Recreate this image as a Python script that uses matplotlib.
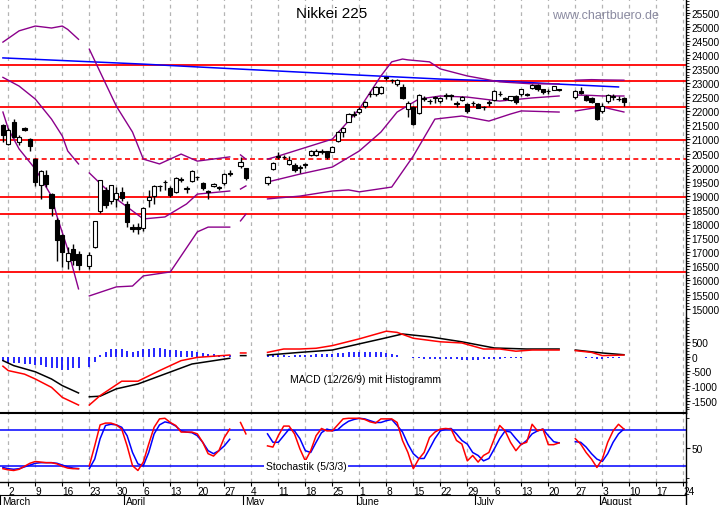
import numpy as np
import matplotlib
matplotlib.use('Agg')
import matplotlib.pyplot as plt
import matplotlib.transforms as mtrans

plt.rcParams['font.family'] = 'Liberation Sans'

# trading-day index: 0 = Mon 2 March 2020, holidays are None
day_start = -1
opens = [21500, 20850, 21600, 20900, 21400, 21000, 20300, 19400, 19750, 19050, 18150, 17600, 16700, 17100, 16950, None,
         16500, 17200, 18450, 19200, 18800, 18900, 19150, 18700, 17890, 17900, 17850, 18850, 19000, 19330, 19480, 19280,
         19150, 19600, 19250, 19530, 19650, 19460, 19150, 19350, 19300, 19450, 19780, None, 20050, 19990, None, None, None,
         19460, 19950, 20370, 20380, 20130, 20100, 20000, 20100, 20450, 20450, 20600, 20590, 20570, 20950, 21270, 21620,
         21900, 21980, 22190, 22600, 22620, 22650, 23180, 23100, 22970, 22860, 22080, 22150, 21940, 22450, 22350, 22480,
         22370, 22550, 22550, 22260, 22400, 22260, 22280, 22250, 22140, 22300, 22400, 22600, 22430, 22400, 22540, 22610,
         22600, 22830, 22930, 22780, 22700, 22760, 22760, None, None, 22500, 22720, 22540, 22470, 22290, 22000, 22360,
         22500, 22450, 22470]
highs = [21550, 21400, 21720, 21150, 21450, 21050, 20350, 19900, 19900, 19100, 18200, 17650, 17200, 17300, 17050, None,
         17000, 18100, 19560, 19300, 19400, 19300, 19300, 18800, 18000, 18050, 18600, 19200, 19400, 19400, 19550, 19350,
         19650, 19650, 19350, 19900, 19720, 19500, 19200, 19450, 19350, 19800, 19900, None, 20370, 20000, None, None, None,
         19700, 20200, 20540, 20450, 20400, 20150, 20100, 20150, 20620, 20650, 20650, 20600, 20750, 21300, 21450, 21950,
         22000, 22150, 22350, 22700, 22900, 22900, 23200, 23150, 23150, 22950, 22350, 22200, 22620, 22550, 22450, 22550,
         22500, 22650, 22600, 22350, 22550, 22300, 22350, 22300, 22200, 22400, 22750, 22700, 22500, 22550, 22560, 22800,
         22650, 22950, 22970, 22800, 22800, 22900, 22800, None, None, 22750, 22850, 22570, 22500, 22300, 22300, 22600,
         22600, 22550, 22500]
lows = [20900, 20800, 21050, 20800, 21300, 20600, 19350, 18900, 19300, 18300, 16700, 16475, 16400, 16550, 16360, None,
        16400, 17150, 18400, 18550, 18700, 18600, 18800, 17900, 17700, 17650, 17750, 18600, 18700, 19170, 19200, 18950,
        19100, 19500, 19100, 19500, 19550, 19200, 18900, 19300, 19200, 19400, 19700, None, 20000, 19550, None, None, None,
        19400, 19900, 20300, 20300, 20100, 19850, 19800, 20000, 20400, 20400, 20500, 20300, 20550, 20900, 21100, 21600,
        21800, 21900, 22100, 22500, 22550, 22600, 23100, 23000, 22900, 22450, 21800, 21500, 21900, 22350, 22250, 22300,
        22300, 22450, 22400, 22150, 22350, 21950, 22200, 22100, 22050, 22200, 22350, 22550, 22400, 22350, 22250, 22550,
        22550, 22800, 22700, 22600, 22600, 22750, 22700, None, None, 22450, 22600, 22350, 22300, 21700, 21950, 22300,
        22400, 22350, 22200]
closes = [21140, 21344, 21083, 21100, 21329, 20749, 19500, 19867, 19416, 18559, 17431, 17000, 16980, 16726, 16552, None,
          16887, 18092, 19546, 18665, 19389, 19084, 18917, 18065, 17819, 17820, 18576, 18950, 19353, 19345, 19498, 19043,
          19638, 19551, 19290, 19897, 19669, 19280, 19137, 19429, 19262, 19783, 19771, None, 20193, 19619, None, None, None,
          19674, 20179, 20390, 20366, 20267, 19914, 20037, 20133, 20590, 20595, 20552, 20388, 20741, 21271, 21419, 21916,
          21877, 22062, 22325, 22613, 22860, 22863, 23178, 23091, 23124, 22472, 22305, 21530, 22582, 22455, 22355, 22478,
          22470, 22549, 22534, 22259, 22512, 21995, 22288, 22121, 22145, 22306, 22714, 22614, 22438, 22529, 22330, 22784,
          22587, 22945, 22770, 22696, 22717, 22884, 22751, None, None, 22715, 22657, 22397, 22339, 21710, 22195, 22573,
          22514, 22418, 22329]

# Bollinger bands and long average (day index, value), None separates pieces
bb_upper_x = [-1, 2, 5, 8, 10, 11, 13, None, 15, 17, 20, 23, 25, 28, 32, 35, 41, None, 43, 44, None,
              48, 50, 60, 65, 69, 71, 73, 74, 78, 80, 85, 91, 97, 102, None, 105, 108, 110, 114]
bb_upper = [24450, 24850, 25020, 24950, 25020, 24900, 24550, None, 24200, 23390, 22180, 21260, 20300, 20130, 20480, 20230, 20380, None, 20450, 20300, None,
            20300, 20410, 21010, 22080, 23250, 23750, 23850, 23820, 23750, 23500, 23250, 23040, 22970, 22970, None, 23100, 23120, 23110, 23100]
bb_mid_x = [-1, 2, 5, 8, 10, 11, 13, None, 15, 20, 25, 29, 33, 35, 41, None, 43, 44, None,
            48, 54, 60, 65, 69, 72, 76, 80, 85, 91, 97, 102, None, 105, 108, 110, 114]
bb_mid = [23200, 22890, 22430, 21720, 21120, 20590, 20130, None, 19810, 18890, 18180, 18250, 18710, 19060, 19170, None, 19240, 19350, None,
          19490, 19770, 20020, 20590, 21260, 21970, 22430, 22540, 22500, 22360, 22470, 22540, None, 22575, 22560, 22540, 22540]
bb_lower_x = [-1, 0, 2, 5, 8, 9, 11, 13, None, 15, 20, 23, 25, 30, 35, 37, 41, None, 43, 44, None,
              48, 54, 60, 63, 65, 71, 75, 79, 84, 89, 93, 95, 102, None, 105, 108, 110, 114]
bb_lower = [21970, 21370, 20660, 19950, 18990, 18280, 17110, 15700, None, 15450, 15770, 15800, 16160, 16300, 17720, 17890, 17890, None, 18110, 18350, None,
            18890, 18990, 19170, 19210, 19140, 19310, 20410, 21720, 21830, 21650, 21900, 22010, 21970, None, 22007, 22100, 22149, 21972]
ma_x = [-1, 25, 35, 65, 80, 91, 102, 113]
ma_val = [23890, 23670, 23570, 23280, 23140, 23070, 22960, 22860]
levels = [23640, 23070, 22150, 20980, 18960, 18355, 16300]
level_dashed = 20305

# MACD (12/26/9)
macd_x = [-1, 0, 3, 5, 8, 10, 13, None, 15, 17, 21, 24, 28, 32, 35, 41, None, 43, 44, None,
          48, 51, 54, 57, 60, 65, 70, 72, 75, 80, 84, 88, 91, 94, 97, 102, None, 105, 108, 110, 114]
macd_val = [-330, -480, -600, -765, -1050, -1390, -1650, None, -1650, -1330, -840, -840, -480, -140, -30, 50, None, 120, 120, None,
            140, 255, 255, 280, 370, 600, 860, 820, 620, 500, 460, 255, 255, 180, 220, 220, None, 200, 140, 30, 50]
signal_x = [-1, 1, 5, 8, 10, 13, None, 15, 17, 20, 24, 29, 34, 41, None, 43, 44, None,
            48, 54, 60, 65, 69, 73, 78, 84, 90, 96, 102, None, 105, 110, 114]
signal_val = [-140, -310, -520, -765, -990, -1240, None, -1370, -1350, -1100, -935, -595, -255, -60, None, 30, 30, None,
              50, 140, 220, 430, 595, 765, 670, 500, 290, 255, 255, None, 220, 120, 60]
macd_hist = ([-150, -230, -230, -230, -260, -260, -300, -300, -340, -390, -400, -450, -450, -400, -400, None]
             + [-340, -170, 57, 147, 250, 250, 250, 193, 147, 193, 250, 250, 283, 283, 250, 227, 227, 204, 193, 193,
                147, 113, 91, 91, 57, 57, 57]
             + [None, None, None, None, None, None]
             + [60, 70, 60, 40, 30, 40, 50, 60, 60, 70, 80, 90, 100, 120, 130, 150, 150]
             + [170, 170, 170, 170, 170, 130, 90, 60, None, None]
             + [-60, -60, -70, -70, -80, -80, -90, -100, -100, -110, -120, -120, -110, -100, -90, -80, -70, -60,
                -50, -40, -40, -30]
             + [None] * 8
             + [-30, -30, -50, -60, -70, -70, -60, -50, -40, -30])

# Stochastik (5/3/3)
stoch_k = ([16, 14, 13, 15, 20, 25, 28, 27, 26, 26, 24, 20, 17, 16, 16, None]
           + [21, 54, 89, 92, 92, 89, 82, 54, 21, 13, 27, 57, 85, 99, 100, 93, 88, 77, 77, 77, 74, 60, 41, 37, 46, 68, 82]
           + [None, 93, 74, None, None, None]
           + [54, 52, 71, 87, 87, 74, 49, 29, 46, 71, 83, 79, 79, 89, 99, 100, 100, 100]
           + [98, 94, 92, 99, 99, 99, 93, 63, 43, 16, 32, 43, 68, 77, 82, 83, 82, 63, 57, 29, 38, 27, 38, 43, 66, 88,
              79, 60, 46, 57, 60, 90, 79, 82, 56, 56, 59]
           + [None, None]
           + [66, 57, 43, 32, 18, 32, 60, 79, 90, 82])
stoch_d = ([18, 16, 15, 16, 19, 22, 25, 26, 26, 26, 25, 22, 19, 17, 16, None]
           + [16, 32, 66, 88, 90, 89, 85, 71, 43, 24, 21, 43, 74, 89, 94, 92, 87, 79, 77, 76, 71, 60, 46, 41, 46, 54, 65]
           + [None, None, None, None, None, None]
           + [74, 60, 60, 71, 82, 79, 66, 46, 43, 60, 76, 82, 79, 81, 89, 95, 98, 100]
           + [99, 96, 93, 93, 96, 98, 88, 77, 57, 41, 33, 33, 49, 66, 79, 82, 83, 74, 63, 57, 43, 38, 29, 33, 49, 66,
              79, 77, 66, 56, 63, 74, 79, 82, 71, 61, 59]
           + [None, None]
           + [61, 60, 52, 41, 32, 28, 41, 60, 74, 82])

monday_labels = ['2', '9', '16', '23', '30', '6', '13', '20', '27', '4', '11', '18', '25',
                 '1', '8', '15', '22', '29', '6', '13', '20', '27', '3', '10', '17', '24']
month_names = ['March', 'April', 'May', 'June', 'July', 'August']
month_start = [-1.5, 21.5, 43.5, 64.5, 86.5, 109.5]

W, H = 723, 506
fig = plt.figure(figsize=(W / 100, H / 100), dpi=100)
fig.patch.set_facecolor('white')

def rect(top, bottom):
    return [0, (H - bottom) / H, 686 / W, (bottom - top) / H]

ax_p = fig.add_axes(rect(0, 414))
ax_m = fig.add_axes(rect(318, 414), facecolor='none')
ax_s = fig.add_axes(rect(414, 483))

xlim = (-1.54, 125.5)
mondays = np.arange(0, 5 * len(monday_labels), 5)
for ax in (ax_p, ax_m, ax_s):
    ax.set_xlim(*xlim)
    for s in ('left', 'top', 'bottom'):
        ax.spines[s].set_visible(False)
    ax.spines['right'].set_linewidth(1)
    ax.yaxis.tick_right()
    ax.tick_params(axis='y', direction='out', length=3, width=0.8, labelsize=7.3, pad=1)
    ax.tick_params(axis='y', which='minor', length=2, width=0.6)
for ax in (ax_p, ax_s):
    for m in mondays:
        ax.axvline(m, color='#b4b4b4', lw=0.9, ls=(0, (3, 3)), zorder=0)
ax_p.set_xticks([])
ax_m.set_xticks([])

def arr(v):
    return np.array(v, dtype=float)

x = np.arange(day_start, day_start + len(closes))
o, h, l, c = arr(opens), arr(highs), arr(lows), arr(closes)

# price panel
ax_p.set_ylim(11298, 25979)
for lv in levels:
    ax_p.axhline(lv, color='#ff0000', lw=1.3, zorder=1)
ax_p.axhline(level_dashed, color='#ff0000', lw=1.2, ls=(0, (3, 2)), zorder=1)
ax_p.plot(arr(ma_x), arr(ma_val), color='#0000ff', lw=1.1, zorder=2)
for bx, bv in ((bb_upper_x, bb_upper), (bb_mid_x, bb_mid), (bb_lower_x, bb_lower)):
    ax_p.plot(arr(bx), arr(bv), color='#8b008b', lw=1.0, zorder=2)
ok = ~np.isnan(c)
ax_p.vlines(x[ok], l[ok], h[ok], color='black', lw=1, zorder=3)
up = ok & (c >= o)
dn = ok & (c < o)
body_up = np.maximum(c[up] - o[up], 25)
body_dn = np.maximum(o[dn] - c[dn], 25)
ax_p.bar(x[up], body_up, bottom=o[up], width=0.8, facecolor='white', edgecolor='black', lw=0.8, zorder=4)
ax_p.bar(x[dn], body_dn, bottom=c[dn], width=0.8, facecolor='black', edgecolor='black', lw=0.8, zorder=4)
ax_p.set_yticks(np.arange(15000, 25501, 500))
ax_p.set_yticks(np.arange(15000, 25901, 100), minor=True)
ax_p.text(332 / 686, 1 - 14 / 414, 'Nikkei 225', transform=ax_p.transAxes, fontsize=11, ha='center', va='center')
ax_p.text(605 / 686, 1 - 16 / 414, 'www.chartbuero.de', transform=ax_p.transAxes, fontsize=9, color='#8a8aa0',
          ha='center', va='center')

# MACD panel
ax_m.set_ylim(-1921, 1343)
hist = arr(macd_hist)
hok = ~np.isnan(hist)
ax_m.vlines(x[hok], 0, hist[hok], color='#0000ff', lw=1.2)
ax_m.plot(arr(signal_x), arr(signal_val), color='black', lw=1.1)
ax_m.plot(arr(macd_x), arr(macd_val), color='#ff0000', lw=1.1)
ax_m.set_yticks(np.arange(-1500, 501, 500))
ax_m.set_yticks(np.arange(-1800, 1301, 100), minor=True)
ax_m.set_yticklabels(['-1500', '-1000', '-500', '0', '500'])
ax_m.text(365 / 686, (414 - 380) / 96, 'MACD (12/26/9) mit Histogramm', transform=ax_m.transAxes,
          fontsize=7.5, ha='center', va='center')

# stochastic panel
ax_s.set_ylim(-6.2, 108.8)
ax_s.axhline(80, color='#0000ff', lw=1.1)
ax_s.axhline(20, color='#0000ff', lw=1.1)
ax_s.plot(x, arr(stoch_d), color='#0000ff', lw=1.1)
ax_s.plot(x, arr(stoch_k), color='#ff0000', lw=1.1)
ax_s.spines['top'].set_visible(True)
ax_s.spines['top'].set_linewidth(1.5)
ax_s.spines['bottom'].set_visible(True)
ax_s.spines['bottom'].set_linewidth(1)
ax_s.set_yticks([50])
ax_s.set_yticks([0, 100], minor=True)
ax_s.text(306 / 686, 20, 'Stochastik (5/3/3)', transform=mtrans.blended_transform_factory(ax_s.transAxes, ax_s.transData),
          fontsize=7.5, ha='center', va='center', bbox=dict(facecolor='white', edgecolor='none', pad=1))
ax_s.set_xticks(mondays)
ax_s.set_xticklabels(monday_labels, ha='left', fontsize=7.3)
ax_s.tick_params(axis='x', direction='out', length=3, width=0.8, pad=0)

# month strip under the date axis
tr = mtrans.blended_transform_factory(ax_s.transData, ax_s.transAxes)
y_line = -(496 - 483) / 69
ax_s.plot(xlim, [y_line, y_line], transform=tr, color='black', lw=0.8, clip_on=False)
for ms, name in zip(month_start, month_names):
    ax_s.plot([ms, ms], [y_line, -(506 - 483) / 69], transform=tr, color='black', lw=0.8, clip_on=False)
    ax_s.text(ms + 0.3, -(502 - 483) / 69, name, transform=tr, fontsize=7.3, ha='left', va='center')
ax_s.plot([xlim[1], xlim[1]], [0, -(506 - 483) / 69], transform=tr, color='black', lw=1, clip_on=False)

fig.savefig('out.png', dpi=100)
